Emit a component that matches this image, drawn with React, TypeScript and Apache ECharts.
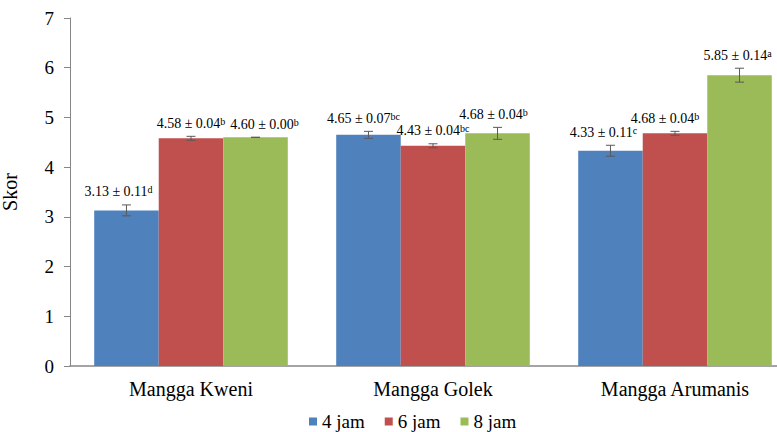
import React, { useEffect, useRef } from "react";
import * as echarts from "echarts";

const categories = ["Mangga Kweni", "Mangga Golek", "Mangga Arumanis"];
const seriesNames = ["4 jam", "6 jam", "8 jam"];
const colors = ["#4F81BD", "#C0504D", "#9BBB59"];
// mean values per series (4 jam, 6 jam, 8 jam) across categories
const mean4 = [3.13, 4.65, 4.33];
const mean6 = [4.58, 4.43, 4.68];
const mean8 = [4.6, 4.68, 5.85];
// SD shown in labels
const sd4 = ["0.11", "0.07", "0.11"];
const sd6 = ["0.04", "0.04", "0.04"];
const sd8 = ["0.00", "0.04", "0.14"];
// error bar half-lengths as drawn
const err4 = [0.11, 0.07, 0.11];
const err6 = [0.04, 0.04, 0.04];
const err8 = [0.0, 0.12, 0.14];
// significance letters
const let4 = ["d", "bc", "c"];
const let6 = ["b", "bc", "b"];
const let8 = ["b", "b", "a"];

const FONT = "Liberation Serif";
// small manual horizontal nudges of the value labels (px), per series
const LABEL_NUDGE = [
  [-8, -5, -7],
  [0, 0, -10],
  [9, -4, -2],
];

export default function App() {
  const ref = useRef<HTMLDivElement>(null);
  useEffect(() => {
    if (!ref.current) return;
    const chart = echarts.init(ref.current, undefined, { renderer: "svg" });
    const means = [mean4, mean6, mean8];
    const sds = [sd4, sd6, sd8];
    const errs = [err4, err6, err8];
    const lets = [let4, let6, let8];
    const errData: any[] = [];
    for (let s = 0; s < 3; s++) {
      for (let c = 0; c < categories.length; c++) {
        errData.push([c, means[s][c], errs[s][c], s, sds[s][c], lets[s][c]]);
      }
    }
    const option: any = {
      animation: false,
      grid: { left: 70, right: 4, top: 18, bottom: 66, containLabel: false, outerBoundsMode: "none" },
      legend: {
        data: seriesNames,
        left: 309,
        top: 412,
        padding: 0,
        icon: "rect",
        itemWidth: 8,
        itemHeight: 8,
        itemGap: 20,
        textStyle: { fontFamily: FONT, fontSize: 19, color: "#000" },
      },
      xAxis: {
        type: "category",
        data: categories,
        axisTick: { show: false },
        axisLine: { lineStyle: { color: "#868686", width: 1.5 } },
        axisLabel: { fontFamily: FONT, fontSize: 20, color: "#000", margin: 13 },
      },
      yAxis: {
        type: "value",
        min: 0,
        max: 7,
        interval: 1,
        name: "Skor",
        nameLocation: "middle",
        nameGap: 50,
        nameTextStyle: { fontFamily: FONT, fontSize: 20, color: "#000" },
        splitLine: { show: false },
        axisLine: { show: true, lineStyle: { color: "#868686", width: 1 } },
        axisTick: { show: true, inside: false, length: 6, lineStyle: { color: "#868686" } },
        axisLabel: { fontFamily: FONT, fontSize: 19, color: "#000", margin: 16 },
      },
      series: [
        ...seriesNames.map((n, i) => ({
          name: n,
          type: "bar",
          data: means[i],
          barGap: "0%",
          barCategoryGap: "20%",
          itemStyle: { color: colors[i] },
        })),
        {
          type: "custom",
          data: errData,
          encode: { x: 0, y: 1 },
          z: 10,
          silent: true,
          renderItem: (params: any, api: any) => {
            const c = api.value(0);
            const m = api.value(1);
            const e = api.value(2);
            const s = api.value(3);
            const sd = errData[params.dataIndex][4];
            const lt = errData[params.dataIndex][5];
            const bandW = api.size([1, 0])[0];
            const barW = (bandW * 0.8) / 3;
            const cx = api.coord([c, m])[0] + (s - 1) * barW;
            const yTop = api.coord([c, m + e])[1];
            const yBot = api.coord([c, m - e])[1];
            const cap = 4.5;
            const stroke = { stroke: "#595959", lineWidth: 1 };
            return {
              type: "group",
              children: [
                { type: "line", shape: { x1: cx, y1: yTop, x2: cx, y2: yBot }, style: stroke },
                { type: "line", shape: { x1: cx - cap, y1: yTop, x2: cx + cap, y2: yTop }, style: stroke },
                { type: "line", shape: { x1: cx - cap, y1: yBot, x2: cx + cap, y2: yBot }, style: stroke },
                {
                  type: "text",
                  x: cx + LABEL_NUDGE[s][c],
                  y: yTop - 13,
                  style: {
                    text: `{n|${m.toFixed(2)} ± ${sd}}{s|${lt}}`,
                    align: "center",
                    verticalAlign: "middle",
                    fill: "#000",
                    rich: {
                      n: { fontFamily: FONT, fontSize: 14, lineHeight: 14, color: "#000" },
                      s: { fontFamily: FONT, fontSize: 10, lineHeight: 10, verticalAlign: "top", color: "#000" },
                    },
                  },
                },
              ],
            };
          },
        },
      ],
    };
    chart.setOption(option);
    return () => chart.dispose();
  }, []);
  return (
    <div style={{ position: "absolute", left: 0, top: 0, width: 777, height: 432, overflow: "hidden", background: "#fff" }}>
      <div ref={ref} style={{ position: "absolute", left: 0, top: 0, width: 800, height: 432 }} />
    </div>
  );
}
